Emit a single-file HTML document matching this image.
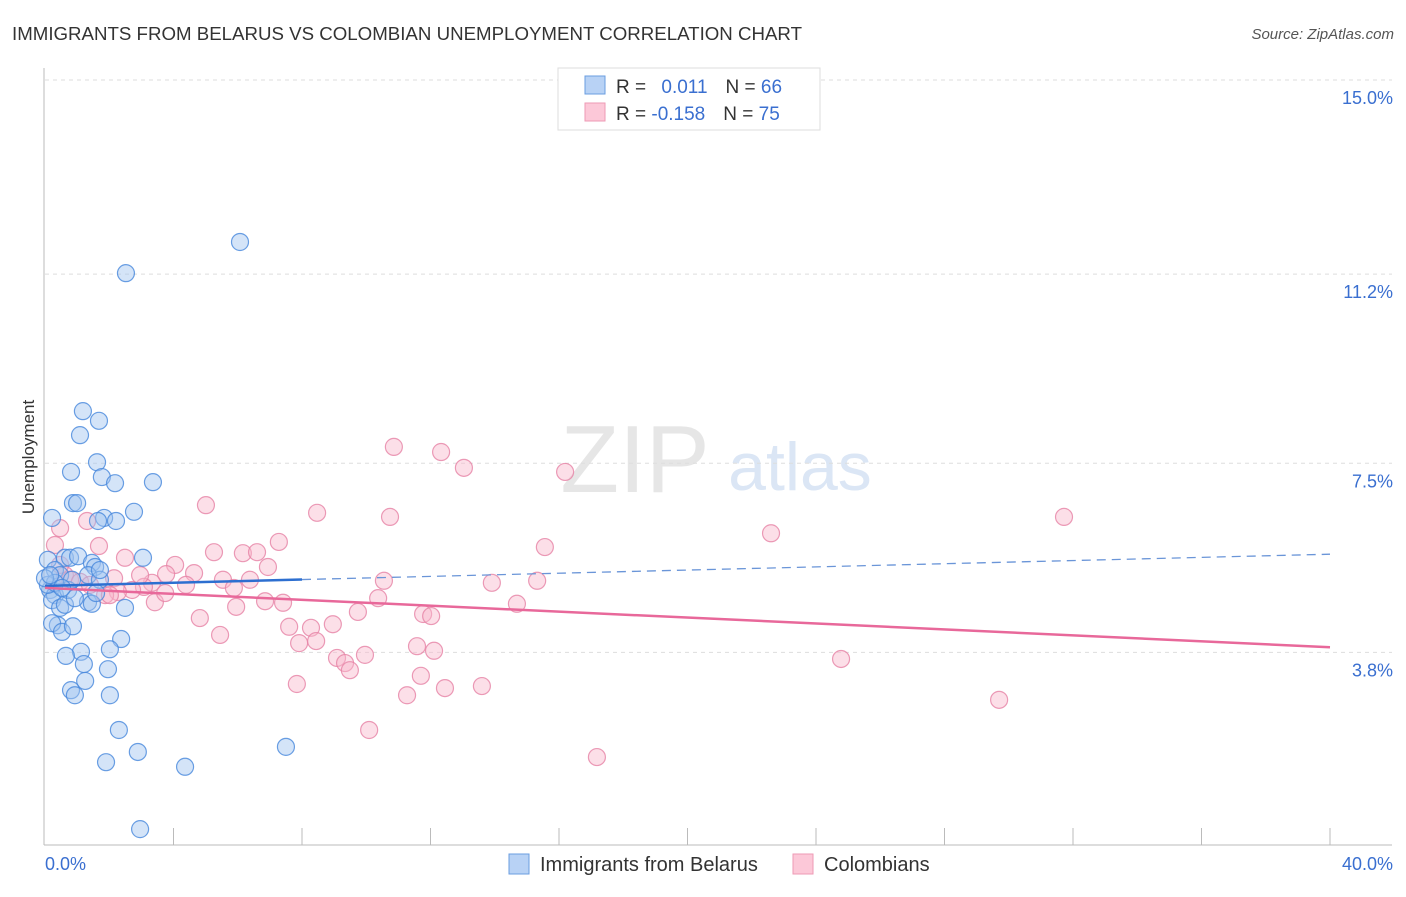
<!DOCTYPE html>
<html><head><meta charset="utf-8"><style>
body{margin:0;background:#fff;font-family:"Liberation Sans",sans-serif;}
svg text{font-family:"Liberation Sans",sans-serif;}
</style></head><body>
<svg id="c" width="1406" height="892" xmlns="http://www.w3.org/2000/svg">
<text x="12" y="40" font-size="18" fill="#333" textLength="790" lengthAdjust="spacingAndGlyphs">IMMIGRANTS FROM BELARUS VS COLOMBIAN UNEMPLOYMENT CORRELATION CHART</text>
<text x="1394" y="39" font-size="15" fill="#555" font-style="italic" text-anchor="end">Source: ZipAtlas.com</text>
<text transform="translate(34,457) rotate(-90)" font-size="17" fill="#333" text-anchor="middle">Unemployment</text>
<text x="635" y="492" font-size="96" fill="#e6e6e6" font-family="Liberation Serif" text-anchor="middle">ZIP</text>
<text x="800" y="490" font-size="68" fill="#dbe6f5" text-anchor="middle">atlas</text>
<g id="grid"></g><g id="pts"></g><g id="trend"></g>
<g>
<rect x="558" y="68" width="262" height="62" fill="#fff" stroke="#ddd"/>
<rect x="585" y="76" width="20" height="18" fill="#b8d2f5" stroke="#6a9de0"/>
<rect x="585" y="103" width="20" height="18" fill="#fcc8d8" stroke="#ee9ab4"/>
<text x="616" y="93" font-size="19" fill="#333">R = <tspan fill="#3a6fd0" dx="10">0.011</tspan><tspan dx="18" fill="#333">N = </tspan><tspan fill="#3a6fd0">66</tspan></text>
<text x="616" y="120" font-size="19" fill="#333">R = <tspan fill="#3a6fd0">-0.158</tspan><tspan dx="18" fill="#333">N = </tspan><tspan fill="#3a6fd0">75</tspan></text>
</g>
<g>
<rect x="509" y="854" width="20" height="20" fill="#b8d2f5" stroke="#6a9de0"/>
<text x="540" y="871" font-size="20" fill="#333">Immigrants from Belarus</text>
<rect x="793" y="854" width="20" height="20" fill="#fcc8d8" stroke="#ee9ab4"/>
<text x="824" y="871" font-size="20" fill="#333">Colombians</text>
</g>
</svg>
<script>
const yTicks=[15.0,11.2,7.5,3.8];
const yTickLabels=["15.0%","11.2%","7.5%","3.8%"];
const xTicks=[0,4,8,12,16,20,24,28,32,36,40];
const belarusX=[6.07,2.52,1.18,1.68,1.09,1.62,0.81,1.77,2.18,3.36,0.87,1.00,0.22,1.84,1.65,2.21,2.77,0.09,0.62,0.78,1.03,1.46,1.56,3.05,0.31,0.47,1.34,1.71,0.16,0.31,0.22,0.47,0.62,1.34,1.46,2.49,0.72,0.93,1.59,0.40,0.22,0.53,0.87,2.37,2.02,1.12,0.65,1.21,1.96,1.25,0.81,0.93,2.02,2.30,2.89,1.90,4.36,7.50,2.96,0.09,0.31,0.00,0.16,0.84,0.53,1.71];
const belarusY=[11.83,11.22,8.52,8.33,8.05,7.52,7.33,7.23,7.11,7.13,6.72,6.72,6.43,6.43,6.37,6.37,6.55,5.61,5.65,5.65,5.68,5.55,5.47,5.65,5.41,5.31,5.31,5.22,5.02,4.92,4.82,4.67,4.73,4.78,4.75,4.67,5.02,4.86,4.96,4.33,4.37,4.20,4.31,4.06,3.86,3.81,3.73,3.57,3.47,3.24,3.06,2.96,2.96,2.28,1.85,1.65,1.56,1.95,0.34,5.12,5.16,5.25,5.31,5.22,5.06,5.41];
const colX=[10.86,12.33,13.04,16.19,31.72,5.01,8.47,10.74,22.60,1.31,1.68,7.28,15.56,5.26,6.16,6.60,2.49,4.05,4.64,6.94,3.77,2.15,5.54,6.38,10.55,13.91,15.32,3.33,4.39,3.08,2.71,2.27,1.87,5.88,10.37,3.42,6.85,7.41,5.95,9.74,11.77,12.02,14.69,4.82,7.60,8.28,8.96,5.45,7.91,8.44,9.96,11.58,12.11,9.09,9.34,9.49,24.78,7.84,11.70,11.27,12.45,13.60,29.70,10.09,17.18,0.47,0.31,0.62,0.78,1.09,1.40,0.47,2.96,2.02,3.74];
const colY=[7.82,7.72,7.41,7.33,6.45,6.68,6.53,6.45,6.13,6.37,5.88,5.96,5.86,5.76,5.74,5.76,5.65,5.51,5.35,5.47,5.33,5.25,5.22,5.22,5.20,5.16,5.20,5.16,5.12,5.08,5.02,4.98,4.92,5.06,4.86,4.78,4.80,4.77,4.69,4.59,4.55,4.51,4.75,4.47,4.30,4.28,4.35,4.14,3.98,4.02,3.75,3.92,3.83,3.69,3.59,3.45,3.67,3.18,3.34,2.96,3.10,3.14,2.87,2.28,1.75,6.23,5.90,5.31,5.22,5.18,5.12,5.51,5.31,4.92,4.96];
const belarusTrend=[5.10,5.72];
const colTrend=[5.06,3.90];
const belarusSolidEnd=8;

const X=v=>45+v*32.125;
const Y=v=>80+(15-v)*51.1;
const NS="http://www.w3.org/2000/svg";
function mk(tag,attrs,parent){const e=document.createElementNS(NS,tag);for(const k in attrs)e.setAttribute(k,attrs[k]);parent.appendChild(e);return e;}
const grid=document.getElementById('grid');
yTicks.forEach((t,i)=>{
  const l=mk('line',{x1:45,x2:1392,y1:Y(t),y2:Y(t),stroke:'#ddd','stroke-dasharray':'4,4'},grid);
  
  
  const tx=mk('text',{x:1393,y:Y(t)+24,'font-size':18,fill:'#3a6fd0','text-anchor':'end'},grid);
  tx.textContent=yTickLabels[i];
  
  
});
const ax=mk('line',{x1:44,x2:44,y1:68,y2:845,stroke:'#bbb'},grid);


const bx=mk('line',{x1:44,x2:1392,y1:845,y2:845,stroke:'#bbb'},grid);


xTicks.slice(1).forEach(t=>{
  const l=mk('line',{x1:X(t),x2:X(t),y1:828,y2:845,stroke:'#bbb'},grid);
  
  
});
const xl0=mk('text',{x:45,y:870,'font-size':18,fill:'#3a6fd0'},grid);xl0.textContent='0.0%';


const xl1=mk('text',{x:1393,y:870,'font-size':18,fill:'#3a6fd0','text-anchor':'end'},grid);xl1.textContent='40.0%';


const pts=document.getElementById('pts');
colX.forEach((x,i)=>{
  const c=mk('circle',{cx:X(x),cy:Y(colY[i]),r:8.5,fill:'rgba(248,185,205,0.45)',stroke:'rgba(230,130,165,0.8)','stroke-width':1.2},pts);
  
  
});
belarusX.forEach((x,i)=>{
  const c=mk('circle',{cx:X(x),cy:Y(belarusY[i]),r:8.5,fill:'rgba(160,195,240,0.45)',stroke:'rgba(70,135,220,0.8)','stroke-width':1.2},pts);
  
  
});
const tr=document.getElementById('trend');
const bAt=x=>belarusTrend[0]+(belarusTrend[1]-belarusTrend[0])*x/40;
const t1=mk('line',{x1:X(0),y1:Y(bAt(0)),x2:X(belarusSolidEnd),y2:Y(bAt(belarusSolidEnd)),stroke:'#2d6fd0','stroke-width':2.5},tr);


const t2=mk('line',{x1:X(belarusSolidEnd),y1:Y(bAt(belarusSolidEnd)),x2:X(40),y2:Y(bAt(40)),stroke:'#6a95d8','stroke-width':1.3,'stroke-dasharray':'9,6'},tr);


const t3=mk('line',{x1:X(0),y1:Y(colTrend[0]),x2:X(40),y2:Y(colTrend[1]),stroke:'#e8689a','stroke-width':2.5},tr);


</script>
</body></html>
